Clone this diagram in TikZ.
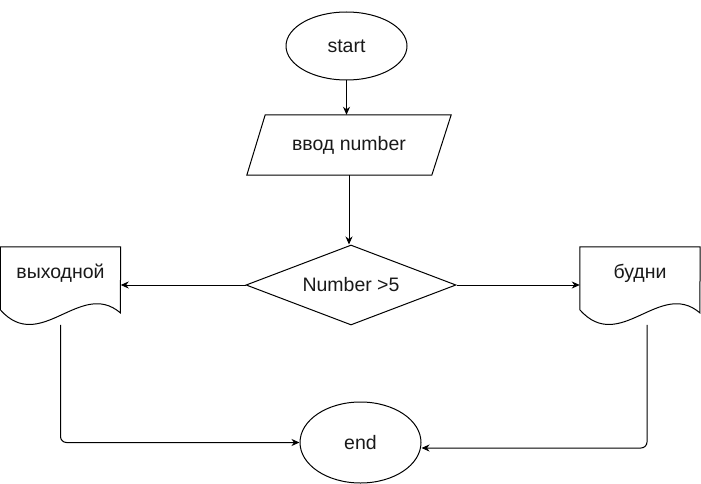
\documentclass[tikz,border=0pt]{standalone}
\usepackage{fontspec}
\setmainfont{Liberation Sans}
\usetikzlibrary{shapes.geometric,arrows.meta,calc}

\begin{document}
\begin{tikzpicture}[x=1pt,y=-1pt,
  every node/.style={font=\fontsize{19.5}{23}\selectfont, text=black!90, inner sep=0pt},
  line/.style={draw=black, line width=1pt},
  arr/.style={line, -{Stealth[length=8pt,width=7pt,inset=2.5pt]}},
  terminal/.style={line, ellipse, minimum width=121pt},
  io/.style={draw=none, minimum width=204pt, minimum height=60pt},
  decision/.style={line, diamond, aspect=2.625, minimum width=210pt, minimum height=80pt},
  docbox/.style={draw=none, minimum width=120pt, minimum height=52pt}
]
\useasboundingbox (0,0) rectangle (701,484);

% terminals
\node[terminal, minimum height=68pt] (start) at (346.5,46) {start};
\node[terminal, minimum height=81pt] (end) at (360.5,442.5) {end};

% input parallelogram
\node[io] (input) at (349,145) {ввод number};
\draw[line] (input.south west) -- ++(185,0) -- (input.north east) -- ++(-186,0) -- cycle;

% decision
\node[decision] (cond) at (351,285) {Number >5};

% document shapes (text area on top, wavy bottom edge)
\node[docbox] (dl) at (60.5,273) {выходной};
\node[docbox] (dr) at (640,273) {будни};
\foreach \d in {dl,dr}{
  \draw[line] (\d.north west) -- (\d.north east) -- ($(\d.north west)+(120,66)$)
    .. controls ($(\d.north west)+(80,32)$) and ($(\d.north west)+(40,108)$) ..
    ($(\d.north west)+(0,63)$) -- cycle;
}

% connectors
\draw[arr] (start.south) -- (start.south |- input.north);
\draw[arr] (input.south) -- (input.south |- cond.north);
\draw[arr] (cond.west) -- (cond.west -| dl.east);
\draw[arr] (cond.east) -- (cond.east -| dr.west);
\draw[arr, rounded corners=6pt] ([yshift=-78pt]dl.north) |- (end.west);
\draw[arr, rounded corners=6pt] ([xshift=7pt,yshift=-78pt]dr.north) |- ([yshift=-5.5pt]end.east);
\end{tikzpicture}
\end{document}
